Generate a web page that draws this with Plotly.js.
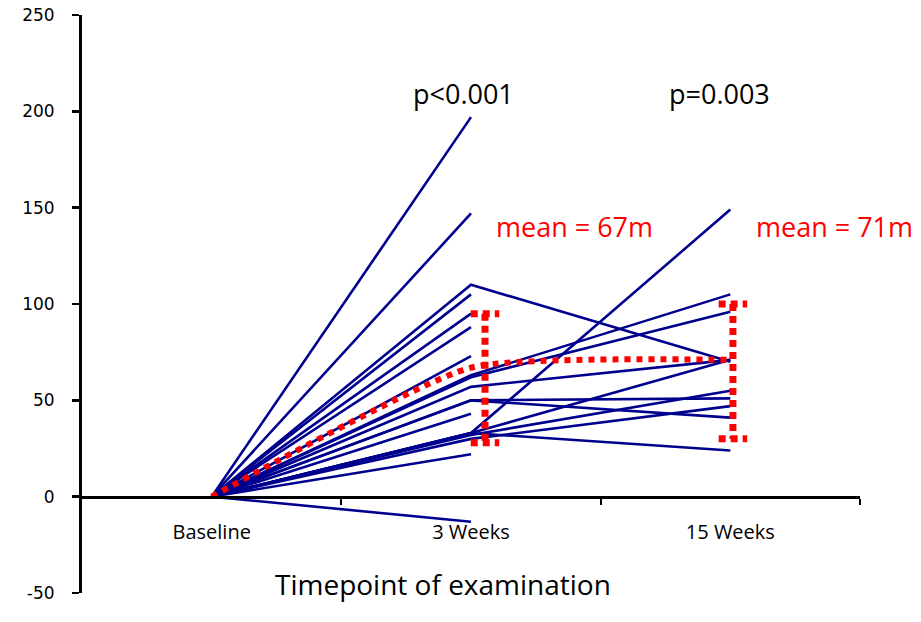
<!DOCTYPE html>
<html>
<head>
<meta charset="utf-8">
<script src="https://cdn.plot.ly/plotly-3.0.1.min.js"></script>
<style>
  html, body { margin: 0; padding: 0; background: #fff; }
  #walk { width: 921px; height: 622px; }
</style>
</head>
<body>
<div id="walk"></div>
<script>
// timepoints on the x axis
var timepoints = ['Baseline', '3 Weeks', '15 Weeks'];

// change in walking distance per patient (m)
var baseline = [0, 0, 0, 0, 0, 0, 0, 0, 0, 0, 0, 0, 0, 0, 0, 0, 0, 0, 0, 0];
var week3 = [197, 147, 110, 105, 95, 88, 73, 63, 62, 57, 50, 50, 43, 33, 33, 32, 33, 30, 22, -13];
var week15 = [null, null, 70, null, null, null, null, 105, 96, 71, 51, 41, null, 149, 71, 55, 24, 47, null, null];

// mean line and the red bracket ends
var meanVals = [0, 67, 71];
var bracketHigh = [95, 100];
var bracketLow = [28, 30];

var yTicks = [-50, 0, 50, 100, 150, 200, 250];
var pLabels = ['p<0.001', 'p=0.003'];
var meanLabels = ['mean = 67m', 'mean = 71m'];

var navy = '#00008f';
var red = '#ff0000';

var data = [];

// one line per patient
for (var i = 0; i < week3.length; i++) {
    var xs = [0, 1];
    var ys = [baseline[i], week3[i]];
    if (week15[i] !== null) {
        xs.push(2);
        ys.push(week15[i]);
    }
    data.push({
        name: 'Patient ' + (i + 1),
        x: xs,
        y: ys,
        type: 'scatter',
        mode: 'lines',
        line: { color: navy, width: 2.6 },
        hoverinfo: 'y',
        showlegend: false,
    });
}

// mean (red dotted)
data.push({
    name: 'Mean',
    x: [0, 1, 2],
    y: meanVals,
    type: 'scatter',
    mode: 'lines',
    line: { color: red, width: 6, dash: '6px,6px', shape: 'spline', smoothing: 0.5 },
    showlegend: false,
});

// red brackets next to 3 and 15 weeks
var bracketCenter = [1.054, 2.01];
var capHalf = 0.055;
for (var k = 0; k < bracketHigh.length; k++) {
    var c = bracketCenter[k];
    data.push({
        name: 'Range ' + timepoints[k + 1],
        x: [c - capHalf, c + capHalf, null, c, c, null, c - capHalf, c + capHalf],
        y: [bracketHigh[k], bracketHigh[k], null, bracketHigh[k], bracketLow[k], null, bracketLow[k], bracketLow[k]],
        type: 'scatter',
        mode: 'lines',
        line: { color: red, width: 7, dash: '7px,5px' },
        hoverinfo: 'skip',
        showlegend: false,
    });
}

var annotations = [];
var pPos = [[0.97, 209], [1.96, 209]];
var mPos = [[1.4, 140], [2.4, 140]];
for (var j = 0; j < pLabels.length; j++) {
    annotations.push({
        x: pPos[j][0], y: pPos[j][1], xref: 'x', yref: 'y',
        text: pLabels[j], showarrow: false,
        font: { family: 'Open Sans, sans-serif', size: 27, color: '#000' },
    });
    annotations.push({
        x: mPos[j][0], y: mPos[j][1], xref: 'x', yref: 'y',
        text: meanLabels[j], showarrow: false,
        font: { family: 'Open Sans, sans-serif', size: 27, color: red },
    });
}
annotations.push({
    x: 0.464, y: 0.016, xref: 'paper', yref: 'paper',
    xanchor: 'center', yanchor: 'middle',
    text: 'Timepoint of examination', showarrow: false,
    font: { family: 'Open Sans, sans-serif', size: 28, color: '#000' },
});

var layout = {
    width: 921,
    height: 622,
    paper_bgcolor: '#fff',
    plot_bgcolor: '#fff',
    showlegend: false,
    margin: { l: 82, r: 61, t: 15, b: 29, pad: 0 },
    xaxis: {
        type: 'linear',
        range: [-0.5, 2.5],
        tickvals: [0, 1, 2],
        ticktext: timepoints,
        ticks: '',
        showgrid: false,
        zeroline: false,
        showline: true,
        linecolor: '#000',
        linewidth: 3,
        anchor: 'free',
        position: 50 / 300,
        ticklabelstandoff: 16,
        tickfont: { family: 'Open Sans, sans-serif', size: 20, color: '#000' },
        minor: { tickvals: [0.5, 1.5, 2.5], ticks: 'outside', ticklen: 6, tickwidth: 2, tickcolor: '#000', showgrid: false },
        fixedrange: true,
    },
    yaxis: {
        range: [-50, 250],
        tickvals: yTicks,
        ticktext: yTicks.map(String),
        ticks: 'outside',
        ticklen: 7,
        tickwidth: 2.5,
        tickcolor: '#000',
        showgrid: false,
        zeroline: false,
        showline: true,
        linecolor: '#000',
        linewidth: 3,
        ticklabelstandoff: 14,
        tickfont: { family: 'DejaVu Sans, Verdana, sans-serif', size: 17, color: '#000' },
        fixedrange: true,
    },
    annotations: annotations,
};

Plotly.newPlot('walk', data, layout, { displayModeBar: false, staticPlot: true });
</script>
</body>
</html>
